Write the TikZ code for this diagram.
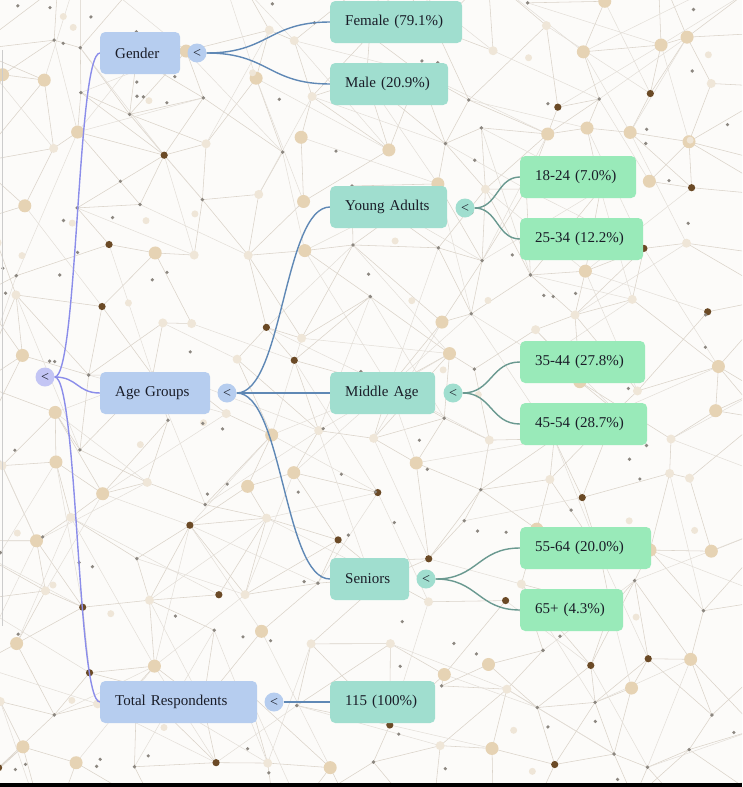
\documentclass[tikz,border=0pt]{standalone}
\usepackage{fontspec}
\setmainfont{Liberation Serif}
\begin{document}
\definecolor{paper}{HTML}{FCFBF9}
\definecolor{netline}{HTML}{DAD3C9}
\definecolor{netbeige}{HTML}{E6D3B4}
\definecolor{netfaint}{HTML}{EFE6D8}
\definecolor{netbrown}{HTML}{6B4A26}
\definecolor{netgray}{HTML}{8C8780}
\definecolor{catblue}{HTML}{B6CDEF}
\definecolor{subteal}{HTML}{A0DECF}
\definecolor{bingreen}{HTML}{99EAB9}
\definecolor{rootlav}{HTML}{C3C5F4}
\definecolor{rootedge}{HTML}{8B8DEA}
\definecolor{catedge}{HTML}{5F88B5}
\definecolor{subedge}{HTML}{6A9990}
\definecolor{ink}{HTML}{1A1D28}
\pgfdeclarelayer{net}
\pgfdeclarelayer{links}
\pgfsetlayers{net,links,main}
\begin{tikzpicture}[x=1pt,y=-1pt,
  box/.style={rounded corners=5pt, minimum height=42pt, inner xsep=15pt,
    anchor=west, align=left, text=ink, font=\fontsize{15}{18}\selectfont},
  l1box/.style={box, fill=catblue},
  l2box/.style={box, fill=subteal},
  l3box/.style={box, fill=bingreen},
  tog/.style={circle, minimum size=19pt, inner sep=0pt, text=ink,
    font=\fontsize{14}{14}\selectfont},
  rootlink/.style={draw=rootedge, line width=1.4pt},
  catlink/.style={draw=catedge, line width=1.4pt},
  sublink/.style={draw=subedge, line width=1.4pt},
  netedge/.style={draw=netline, line width=0.55pt},
  netedgelight/.style={draw=netline!75, line width=0.5pt}]
\useasboundingbox (0,0) rectangle (742,787);

% ---------- decorative network backdrop ----------
\begin{pgfonlayer}{net}
\fill[paper] (0,0) rectangle (742,787);
\begin{scope}
\clip (0,0) rectangle (742,783);
\pgfmathsetseed{2718}
\foreach \i in {0,...,14}{
  \foreach \j in {0,...,15}{
    \pgfmathsetmacro{\px}{\i*56 - 20 + rand*23}
    \pgfmathsetmacro{\py}{\j*56 - 20 + rand*23}
    \coordinate (q-\i-\j) at (\px,\py);
  }
}
% short links between neighbouring points
\foreach \i in {0,...,13}{
  \foreach \j in {0,...,14}{
    \pgfmathtruncatemacro{\ni}{\i+1}
    \pgfmathtruncatemacro{\nj}{\j+1}
    \pgfmathtruncatemacro{\a}{rnd<0.65}
    \ifnum\a=1 \draw[netedge] (q-\i-\j) -- (q-\ni-\j);\fi
    \pgfmathtruncatemacro{\a}{rnd<0.6}
    \ifnum\a=1 \draw[netedge] (q-\i-\j) -- (q-\i-\nj);\fi
    \pgfmathtruncatemacro{\a}{rnd<0.4}
    \ifnum\a=1 \draw[netedge] (q-\i-\j) -- (q-\ni-\nj);\fi
    \pgfmathtruncatemacro{\a}{rnd<0.35}
    \ifnum\a=1 \draw[netedge] (q-\ni-\j) -- (q-\i-\nj);\fi
  }
}
% longer links
\foreach \i in {0,...,12}{
  \foreach \j in {0,...,13}{
    \pgfmathtruncatemacro{\ni}{\i+1}
    \pgfmathtruncatemacro{\nni}{\i+2}
    \pgfmathtruncatemacro{\nj}{\j+1}
    \pgfmathtruncatemacro{\nnj}{\j+2}
    \pgfmathtruncatemacro{\a}{rnd<0.28}
    \ifnum\a=1 \draw[netedgelight] (q-\i-\j) -- (q-\nni-\nj);\fi
    \pgfmathtruncatemacro{\a}{rnd<0.28}
    \ifnum\a=1 \draw[netedgelight] (q-\i-\j) -- (q-\ni-\nnj);\fi
    \pgfmathtruncatemacro{\a}{rnd<0.2}
    \ifnum\a=1 \draw[netedgelight] (q-\nni-\j) -- (q-\i-\nj);\fi
    \pgfmathtruncatemacro{\a}{rnd<0.12}
    \ifnum\a=1 \draw[netedgelight] (q-\ni-\j) -- (q-\i-\nnj);\fi
  }
}
% dots on the points
\foreach \i in {0,...,14}{
  \foreach \j in {0,...,15}{
    \pgfmathsetmacro{\r}{rnd}
    \ifdim\r pt<0.26pt
      \fill[netbeige] (q-\i-\j) circle[radius=6.5pt];
    \else\ifdim\r pt<0.40pt
      \fill[netbrown] (q-\i-\j) circle[radius=3.6pt];
    \else\ifdim\r pt<0.72pt
      \fill[netgray] (q-\i-\j) circle[radius=1.9pt];
    \else
      \fill[netfaint] (q-\i-\j) circle[radius=4.5pt];
    \fi\fi\fi
  }
}
% scattered small dots
\foreach \k in {1,...,140}{
  \pgfmathsetmacro{\px}{rnd*742}
  \pgfmathsetmacro{\py}{rnd*783}
  \pgfmathsetmacro{\r}{rnd}
  \ifdim\r pt<0.7pt
    \fill[netgray] (\px,\py) circle[radius=1.8pt];
  \else
    \fill[netfaint] (\px,\py) circle[radius=3.5pt];
  \fi
}
\end{scope}
\draw[gray!40, line width=0.8pt] (2.5,50) -- (2.5,626);
\fill[black] (0,783) rectangle (742,787);
\end{pgfonlayer}

% ---------- tree nodes ----------
\node[tog, fill=rootlav] (troot) at (45,377) {<};

\node[l1box, text width=50pt]  (gender) at (100,53)  {Gender};
\node[l1box, text width=80pt]  (age)    at (100,393) {Age Groups};
\node[l1box, text width=127pt] (total)  at (100,702) {Total Respondents};

\node[tog, fill=catblue] (tgender) at (197,53)  {<};
\node[tog, fill=catblue] (tage)    at (227,393) {<};
\node[tog, fill=catblue] (ttotal)  at (274,702) {<};

\node[l2box, text width=102pt] (female)  at (330,22)  {Female (79.1\%)};
\node[l2box, text width=88pt]  (male)    at (330,84)  {Male (20.9\%)};
\node[l2box, text width=87pt]  (young)   at (330,207) {Young Adults};
\node[l2box, text width=75pt]  (middle)  at (330,393) {Middle Age};
\node[l2box, text width=49pt]  (seniors) at (330,579) {Seniors};
\node[l2box, text width=75pt]  (count)   at (330,702) {115 (100\%)};

\node[tog, fill=subteal] (tyoung)   at (465,208) {<};
\node[tog, fill=subteal] (tmiddle)  at (453,393) {<};
\node[tog, fill=subteal] (tseniors) at (426,579) {<};

\node[l3box, text width=86pt] (a1824) at (520,177) {18-24 (7.0\%)};
\node[l3box, text width=93pt] (a2534) at (520,239) {25-34 (12.2\%)};
\node[l3box, text width=95pt] (a3544) at (520,362) {35-44 (27.8\%)};
\node[l3box, text width=97pt] (a4554) at (520,424) {45-54 (28.7\%)};
\node[l3box, text width=101pt] (a5564) at (520,548) {55-64 (20.0\%)};
\node[l3box, text width=73pt] (a65)   at (520,610) {65+ (4.3\%)};

% ---------- connectors ----------
\begin{pgfonlayer}{links}
\draw[rootlink] (troot.east) .. controls +(23,0) and +(-23,0) .. (gender.west);
\draw[rootlink] (troot.east) .. controls +(23,0) and +(-23,0) .. (age.west);
\draw[rootlink] (troot.east) .. controls +(23,0) and +(-23,0) .. (total.west);

\draw[catlink] (tgender.east) .. controls +(62,0) and +(-62,0) .. (female.west);
\draw[catlink] (tgender.east) .. controls +(62,0) and +(-62,0) .. (male.west);
\draw[catlink] (tage.east) .. controls +(46,0) and +(-46,0) .. (young.west);
\draw[catlink] (tage.east) -- (middle.west);
\draw[catlink] (tage.east) .. controls +(46,0) and +(-46,0) .. (seniors.west);
\draw[catlink] (ttotal.east) -- (count.west);

\draw[sublink] (tyoung.east) .. controls +(23,0) and +(-23,0) .. (a1824.west);
\draw[sublink] (tyoung.east) .. controls +(23,0) and +(-23,0) .. (a2534.west);
\draw[sublink] (tmiddle.east) .. controls +(29,0) and +(-29,0) .. (a3544.west);
\draw[sublink] (tmiddle.east) .. controls +(29,0) and +(-29,0) .. (a4554.west);
\draw[sublink] (tseniors.east) .. controls +(42,0) and +(-42,0) .. (a5564.west);
\draw[sublink] (tseniors.east) .. controls +(42,0) and +(-42,0) .. (a65.west);
\end{pgfonlayer}
\end{tikzpicture}
\end{document}
